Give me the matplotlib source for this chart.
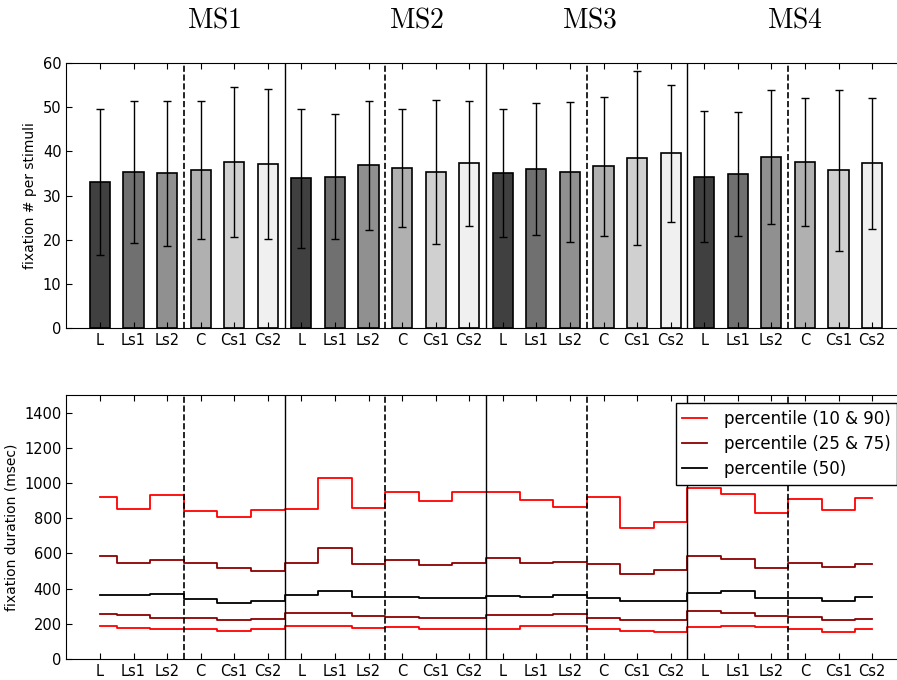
import numpy as np
import matplotlib
matplotlib.use("Agg")
import matplotlib.pyplot as plt

plt.rcParams['mathtext.fontset'] = 'cm'

# ---- data ----
groups = ["MS1", "MS2", "MS3", "MS4"]
conditions = ["L", "Ls1", "Ls2", "C", "Cs1", "Cs2"]
bar_colors = ['#404040', '#707070', '#909090', '#b0b0b0', '#d0d0d0', '#f0f0f0']

# fixation count per stimulus (mean, std), one row per MS
fix_mean = [
    [33.1, 35.4, 35.0, 35.8, 37.6, 37.1],
    [33.9, 34.3, 36.9, 36.3, 35.4, 37.3],
    [35.1, 36.0, 35.3, 36.6, 38.5, 39.6],
    [34.3, 34.9, 38.8, 37.6, 35.7, 37.3],
]
fix_std = [
    [16.6, 16.1, 16.5, 15.6, 17.0, 17.0],
    [15.8, 14.2, 14.6, 13.4, 16.3, 14.1],
    [14.6, 15.0, 15.8, 15.8, 19.8, 15.5],
    [14.8, 14.1, 15.2, 14.4, 18.3, 14.8],
]

# fixation duration percentiles (msec)
p10 = [189, 176, 169, 171, 157, 169,
       188, 188, 174, 180, 169, 172,
       172, 189, 189, 172, 157, 152,
       184, 189, 180, 172, 152, 169]
p25 = [256, 252, 235, 231, 220, 225,
       260, 260, 244, 239, 231, 235,
       250, 250, 256, 235, 222, 224,
       271, 260, 244, 237, 224, 227]
p50 = [364, 364, 369, 343, 320, 328,
       364, 385, 352, 352, 347, 347,
       360, 350, 364, 349, 328, 328,
       377, 385, 345, 345, 328, 352]
p75 = [585, 544, 563, 548, 519, 500,
       548, 633, 540, 561, 536, 548,
       576, 548, 551, 538, 481, 504,
       585, 566, 519, 548, 523, 542]
p90 = [921, 853, 930, 843, 807, 847,
       853, 1029, 856, 949, 896, 949,
       949, 906, 866, 921, 743, 779,
       970, 938, 828, 909, 845, 915]

n = len(groups) * len(conditions)
x = np.arange(n)
labels = conditions * len(groups)

fig = plt.figure(figsize=(8.97, 6.8), dpi=100)
ax1 = fig.add_axes([0.074, 0.5176, 0.9357, 0.3897])
ax2 = fig.add_axes([0.074, 0.0309, 0.9357, 0.3882])

# ---- top: bars ----
means = np.array(fix_mean).ravel()
stds = np.array(fix_std).ravel()
ax1.bar(x, means, width=0.6, color=bar_colors * len(groups),
        edgecolor='black', linewidth=1.2, yerr=stds,
        error_kw=dict(ecolor='black', elinewidth=1, capsize=3, capthick=1))
ax1.set_ylim(0, 60)
ax1.set_yticks(range(0, 61, 10))
ax1.set_ylabel("fixation # per stimuli", fontsize=10)

# ---- bottom: step lines ----
ax2.plot(x, p90, drawstyle='steps-mid', color='red', lw=1.3, label='percentile (10 & 90)')
ax2.plot(x, p75, drawstyle='steps-mid', color='#8b0000', lw=1.3, label='percentile (25 & 75)')
ax2.plot(x, p50, drawstyle='steps-mid', color='black', lw=1.3, label='percentile (50)')
ax2.plot(x, p25, drawstyle='steps-mid', color='#8b0000', lw=1.3)
ax2.plot(x, p10, drawstyle='steps-mid', color='red', lw=1.3)
ax2.set_ylim(0, 1500)
ax2.set_yticks(range(0, 1401, 200))
ax2.set_ylabel("fixation duration (msec)", fontsize=10)
leg = ax2.legend(loc='upper right', fontsize=12, fancybox=False, framealpha=1,
                 handlelength=1.5, handletextpad=1.0, borderaxespad=0.5,
                 labelspacing=0.42)
leg.get_frame().set_edgecolor('black')

for ax in (ax1, ax2):
    ax.set_xlim(-1, n)
    ax.set_xticks(x)
    ax.set_xticklabels(labels)
    ax.tick_params(direction='in', top=True, right=True, labelsize=10.5, length=4)
    for b in range(1, len(groups)):
        ax.axvline(b * 6 - 0.5, color='black', lw=1)
    for b in range(len(groups)):
        ax.axvline(b * 6 + 2.5, color='black', lw=1.2, ls='--')

# group titles
title_x = [214, 417, 590, 795]
for g, tx in zip(groups, title_x):
    fig.text(tx / 897, 1 - 20 / 680, r'$\mathrm{%s}$' % g, fontsize=20,
             ha='center', va='center')

fig.savefig("out.png", dpi=100)
